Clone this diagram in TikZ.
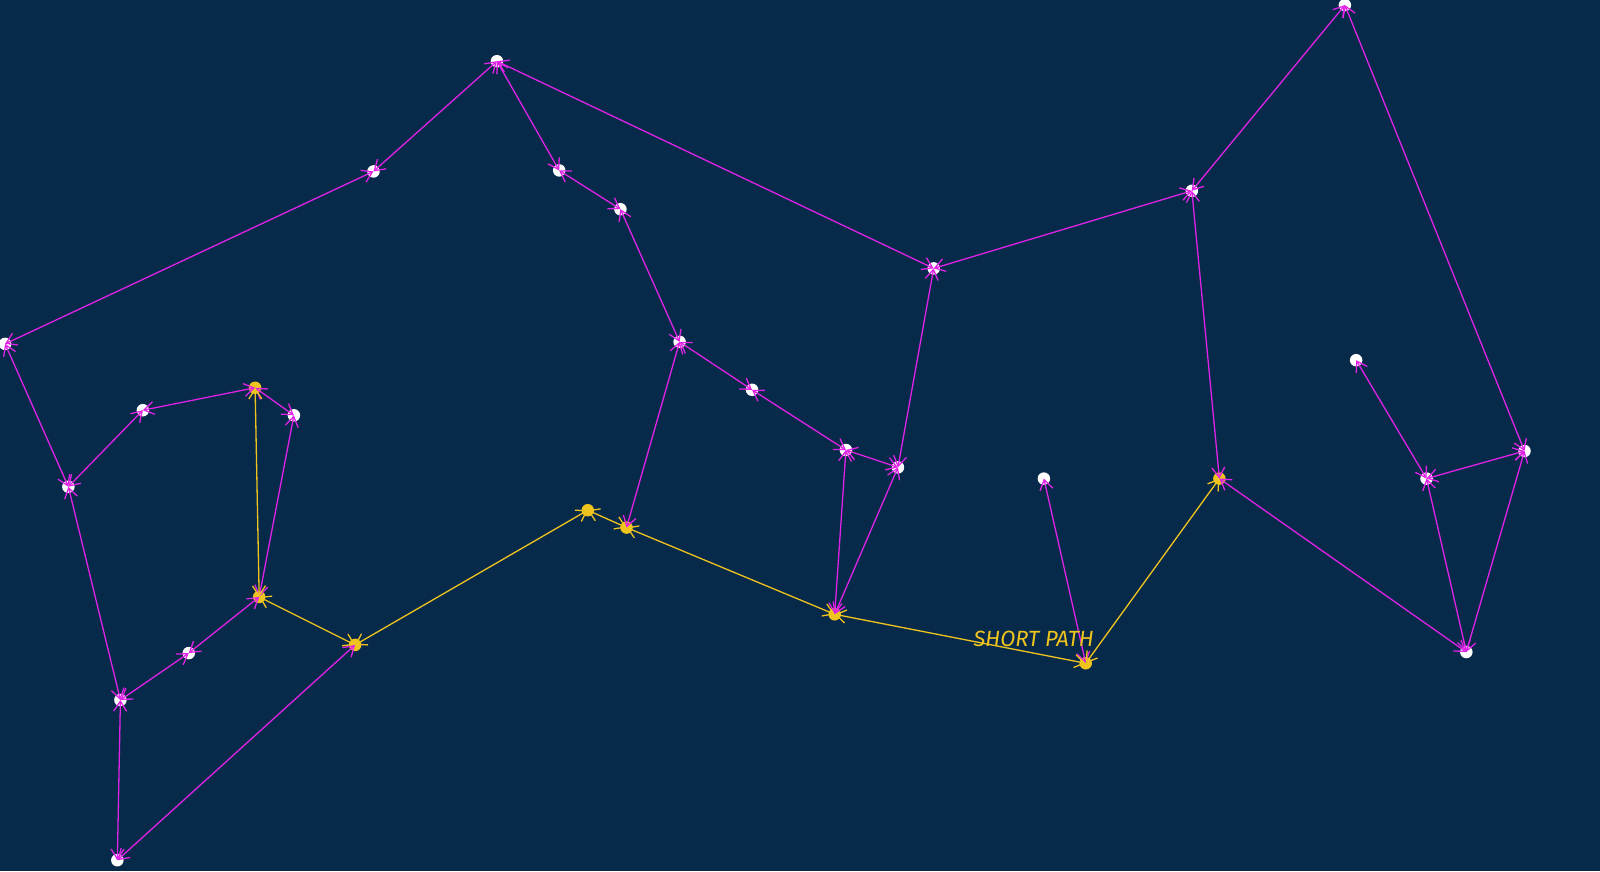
\documentclass[tikz,border=0pt]{standalone}
\usepackage{fontspec}
\setmainfont{Fira Sans}
\usetikzlibrary{arrows.meta}
\definecolor{bg}{RGB}{7,42,74}
\definecolor{mag}{RGB}{222,34,230}
\definecolor{gold}{RGB}{240,196,30}
\tikzset{
  wnode/.style={circle,fill=white,inner sep=0pt,minimum size=12.5pt},
  gnode/.style={circle,fill=gold,inner sep=0pt,minimum size=12.5pt},
  medge/.style={draw=mag,line width=1.3pt,{Straight Barb[length=10pt,width=13pt]}-{Straight Barb[length=10pt,width=13pt]}},
  yedge/.style={draw=gold,line width=1.3pt,{Straight Barb[length=10pt,width=13pt]}-{Straight Barb[length=10pt,width=13pt]}},
}
\begin{document}
\begin{tikzpicture}[x=1.0204pt,y=-1.0204pt]
\fill[bg] (0,0) rectangle (1568,854);
\useasboundingbox (0,0) rectangle (1568,854);
% nodes
\node[wnode] (A) at (487,60) {};
\node[wnode] (B) at (366,168) {};
\node[wnode] (C) at (5,337) {};
\node[wnode] (D) at (548,167) {};
\node[wnode] (E) at (608,205) {};
\node[wnode] (F) at (915,263) {};
\node[wnode] (G) at (1168,187) {};
\node[wnode] (H) at (1318,5) {};
\node[wnode] (I) at (666,335) {};
\node[wnode] (J) at (737,382) {};
\node[wnode] (K) at (829,441) {};
\node[wnode] (L) at (880,458) {};
\node[wnode] (M) at (140,402) {};
\node[gnode] (N) at (250,380) {};
\node[wnode] (O) at (288,407) {};
\node[wnode] (P) at (67,477) {};
\node[gnode] (Q) at (576,500) {};
\node[gnode] (R) at (614,517) {};
\node[gnode] (S) at (254,585) {};
\node[gnode] (T) at (348,632) {};
\node[wnode] (U) at (185,640) {};
\node[wnode] (V) at (118,686) {};
\node[wnode] (W) at (115,843) {};
\node[gnode] (X) at (818,602) {};
\node[gnode] (Y) at (1064,650) {};
\node[wnode] (Z) at (1023,469) {};
\node[gnode] (AA) at (1195,469) {};
\node[wnode] (AB) at (1329,353) {};
\node[wnode] (AC) at (1398,469) {};
\node[wnode] (AD) at (1494,442) {};
\node[wnode] (AE) at (1437,639) {};
% magenta edges
\foreach \a/\b in {A/B,B/C,A/D,D/E,A/F,F/G,G/H,H/AD,G/AA,E/I,I/J,J/K,I/R,K/X,L/X,F/L,K/L,C/P,P/M,M/N,N/O,O/S,P/V,V/U,U/S,V/W,W/T,Z/Y,AA/AE,AB/AC,AC/AD,AC/AE,AD/AE}
  \draw[medge] (\a.center) -- (\b.center);
% short path edges
\foreach \a/\b in {N/S,S/T,T/Q,Q/R,R/X,X/Y,Y/AA}
  \draw[yedge] (\a.center) -- (\b.center);
\node[text=gold,font=\itshape\fontsize{22}{26}\selectfont] (lbl) at (1013,626) {SHORT PATH};
\end{tikzpicture}
\end{document}
